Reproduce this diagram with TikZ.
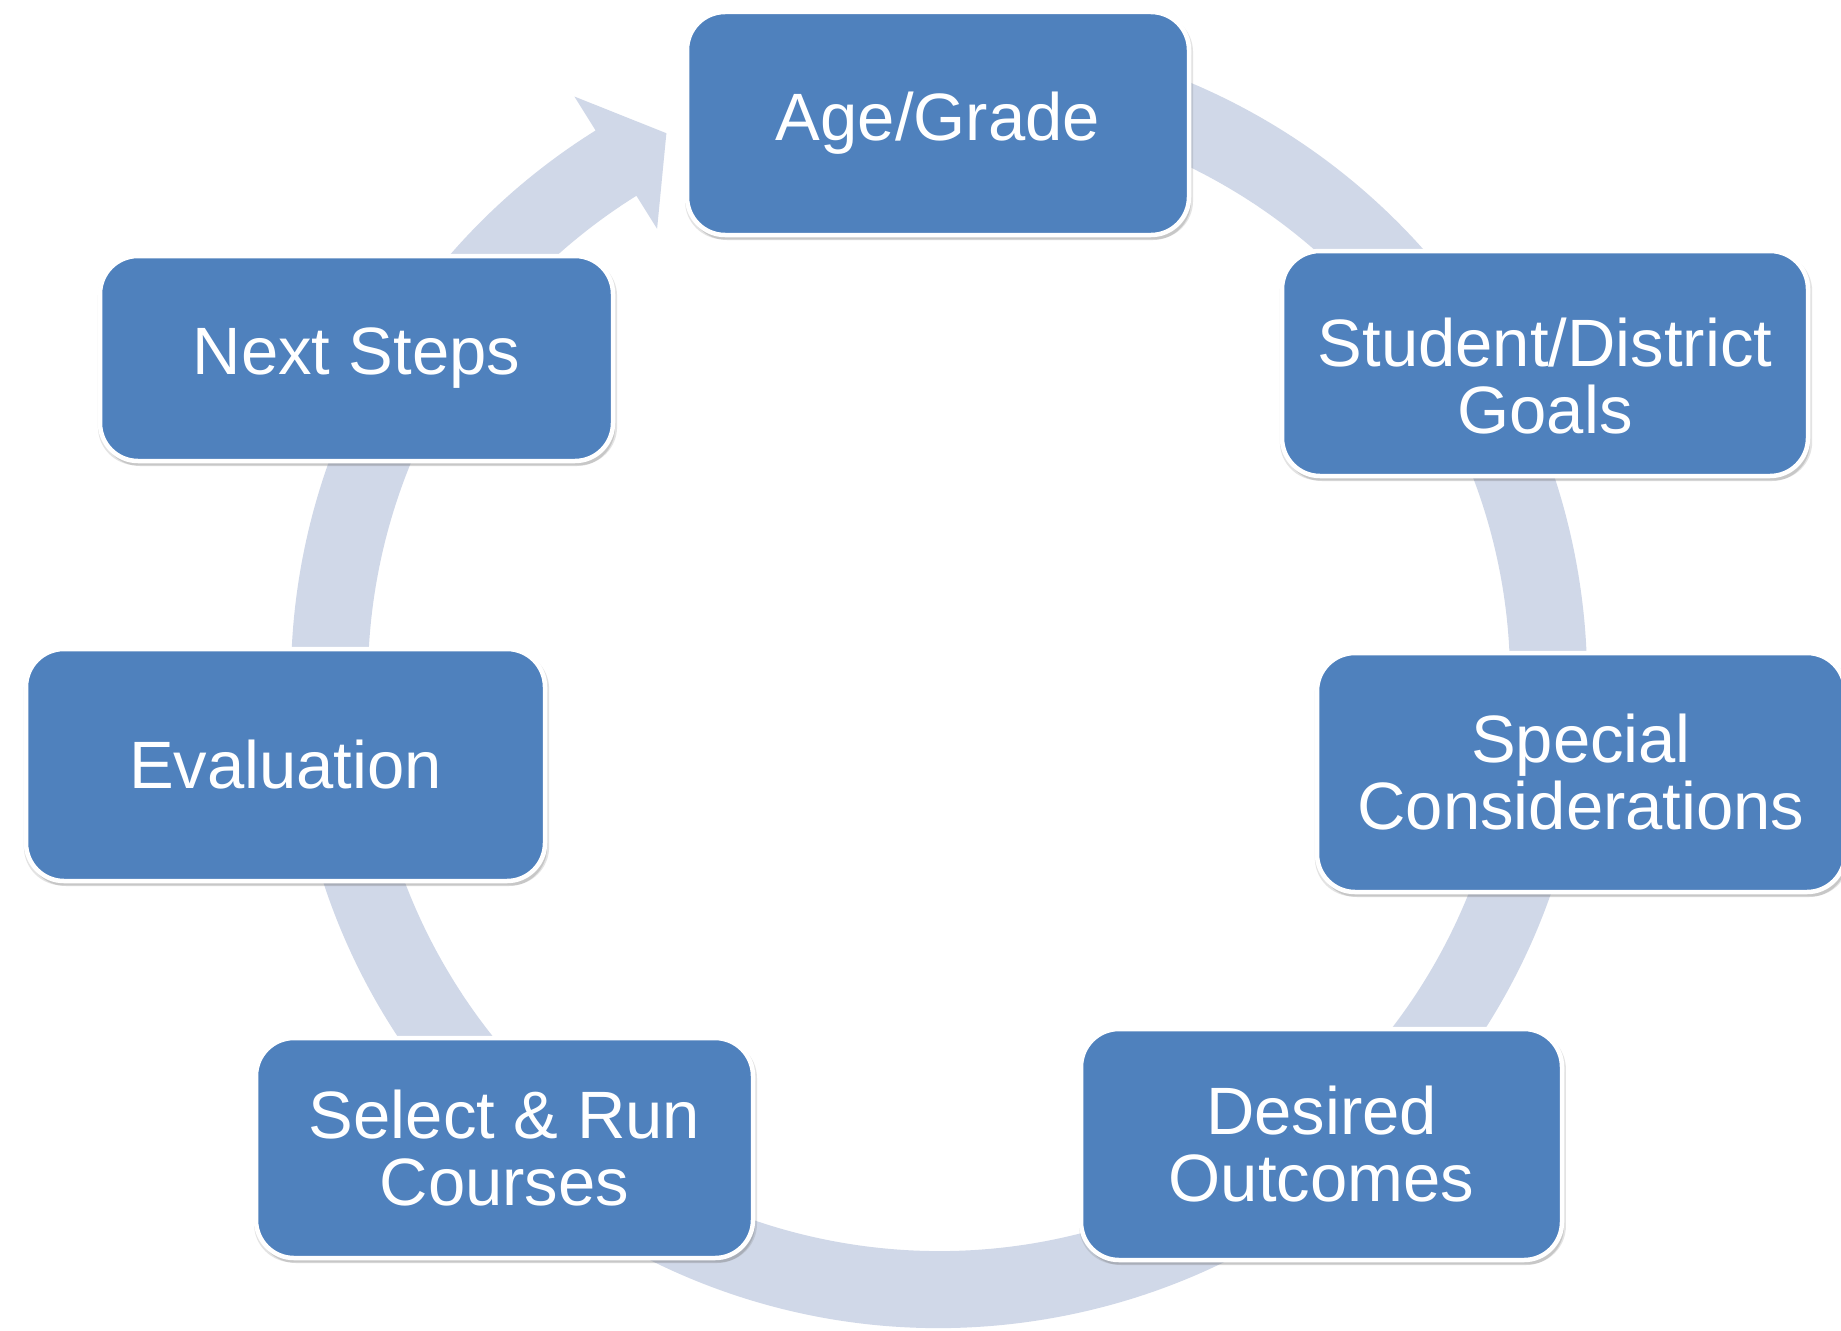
\documentclass[tikz,border=0pt]{standalone}
\usepackage{fontspec}
\setmainfont{Liberation Sans}
\usetikzlibrary{shadows}
\definecolor{boxblue}{HTML}{4F81BD}
\definecolor{ringblue}{HTML}{D0D8E8}
\begin{document}
\begin{tikzpicture}[x=1pt,y=1pt,
  stage/.style={draw=white, line width=4.5pt, fill=boxblue, rounded corners=38pt,
    text=white, align=center, inner sep=0pt,
    font=\fontsize{67pt}{67pt}\selectfont,
    general shadow={shadow scale=1.012, shadow xshift=1pt, shadow yshift=-3pt, opacity=0.18, fill=black!60},
    drop shadow={shadow xshift=2pt, shadow yshift=-5pt, opacity=0.22, fill=black!60}},
  stagetext/.style={text=white, align=center, inner sep=0pt,
    font=\fontsize{67pt}{67pt}\selectfont}]
\useasboundingbox (0,0) rectangle (1841,-1330);
\fill[white] (0,0) rectangle (1841,-1330);
% cycle ring with arrowhead
\begin{scope}[shift={(939,-680)}]
\fill[ringblue] (100:648pt) arc[start angle=100, end angle=-238, radius=648pt]
  -- (-238:688pt) -- (-243.5:611pt) -- (-238:532pt) -- (-238:571pt)
  arc[start angle=-238, end angle=100, radius=571pt] -- cycle;
\end{scope}
% stages
\node[stage, minimum width=502pt, minimum height=223pt] (age) at (938,-123.5) {Age/Grade};
\node[stage, minimum width=526pt, minimum height=225pt] (goals) at (1545,-363.5) {};
\node[stagetext] (goalstext) at ([yshift=-13pt]goals.center) {Student/District\\Goals};
\node[stage, minimum width=528pt, minimum height=239pt] (special) at (1581,-772.5) {Special\\Considerations};
\node[stage, minimum width=481pt, minimum height=231pt] (outcomes) at (1321.5,-1144.5) {Desired\\Outcomes};
\node[stage, minimum width=497pt, minimum height=220pt] (courses) at (504.5,-1148) {Select \& Run\\Courses};
\node[stage, minimum width=519pt, minimum height=232pt] (eval) at (285.5,-765) {Evaluation};
\node[stage, minimum width=513pt, minimum height=205pt] (next) at (356.5,-358.5) {Next Steps};
\end{tikzpicture}
\end{document}
